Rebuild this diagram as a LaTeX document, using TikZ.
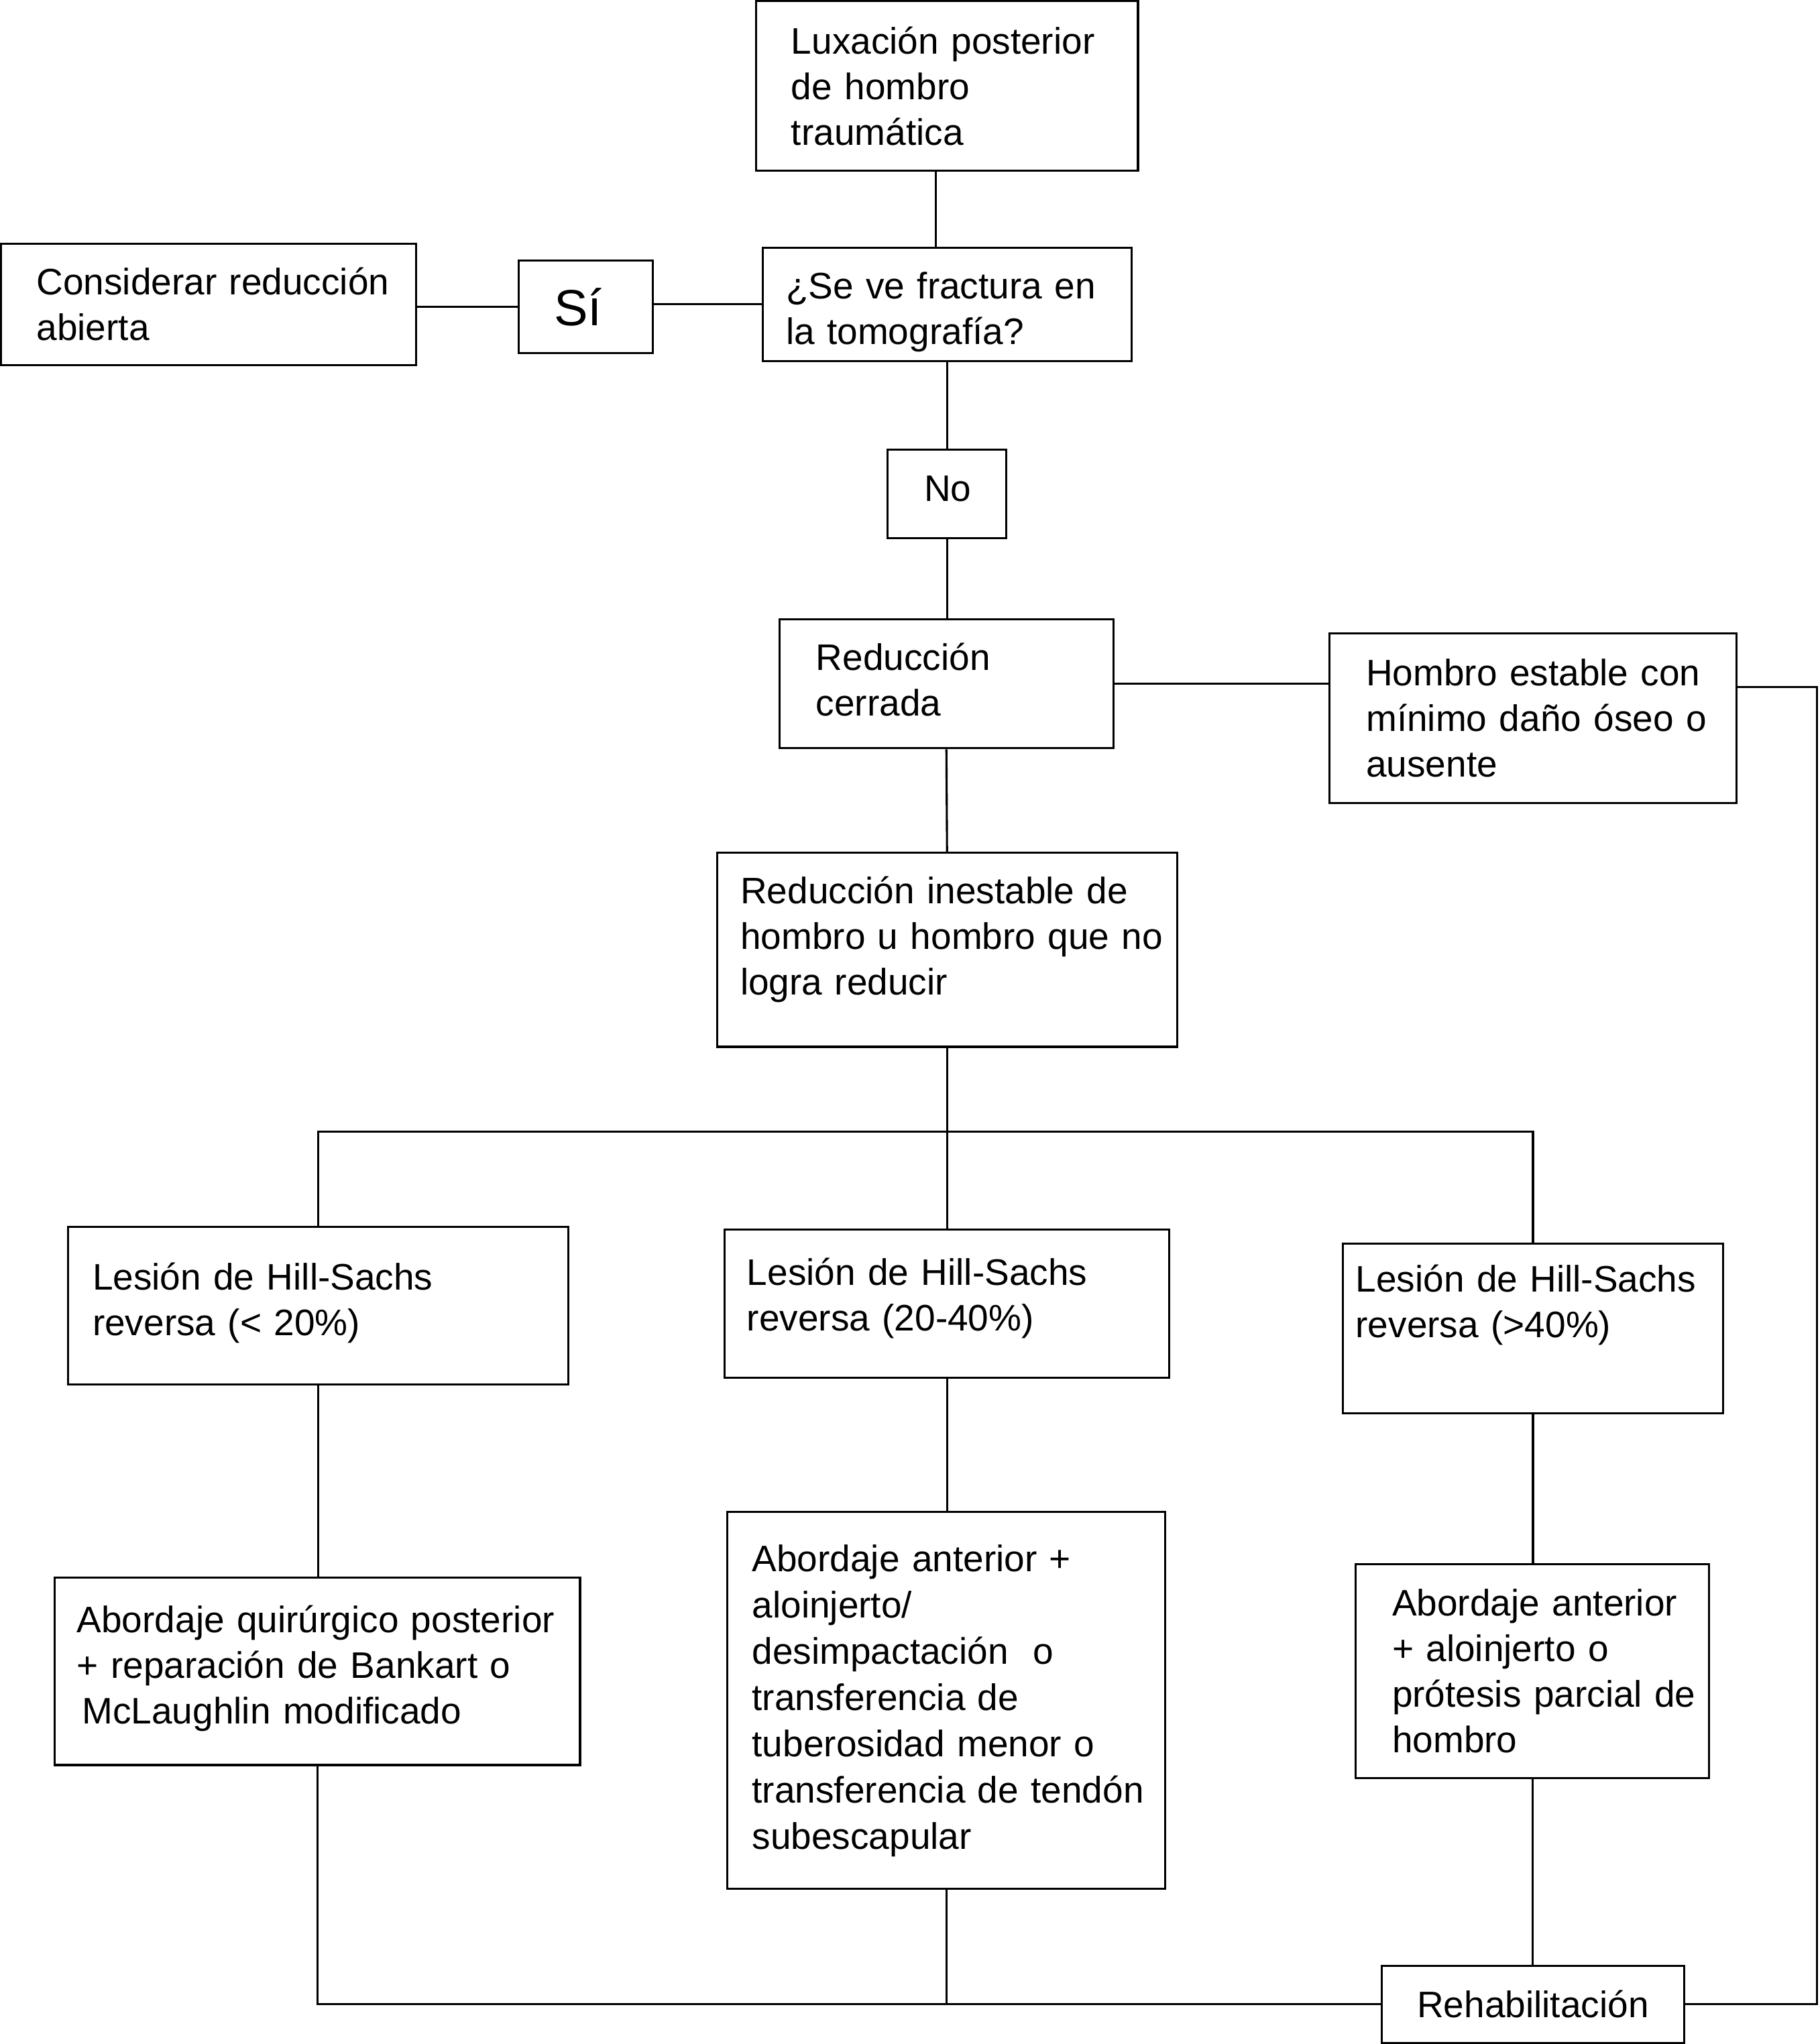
\documentclass[tikz,border=0pt]{standalone}
\usepackage{fontspec}
\setmainfont{Liberation Sans}

\begin{document}
\begin{tikzpicture}[x=1pt, y=-1pt,
  box/.style={draw=black, line width=1.6pt, align=left, inner xsep=0pt, inner ysep=0pt, font=\fontsize{28.3}{35}\selectfont},
  pad/.style={execute at begin node={\leftskip=#1}},
  lift/.style={execute at end node={\endgraf\vspace*{#1}}},
  link/.style={black, line width=1.6pt}]
\useasboundingbox (0,0) rectangle (1396,1568);
\node[box, pad=27pt, text width=293pt, minimum height=130pt] (lux) at (726.5,66) {Luxación posterior\\de hombro\\traumática};
\node[box, pad=18pt, lift=-12pt, text width=283pt, minimum height=87pt] (frac) at (726.5,233.5) {¿Se ve fractura en\\la tomografía?};
\node[box, pad=27pt, text width=103pt, minimum height=71pt, font=\fontsize{39}{45}\selectfont] (si) at (449.5,235.5) {Sí};
\node[box, pad=27pt, text width=318pt, minimum height=93pt] (abierta) at (160,233.5) {Considerar reducción\\abierta};
\node[box, pad=28pt, lift=8pt, text width=91pt, minimum height=68pt] (no) at (726.5,379) {No};
\node[box, pad=28pt, lift=6pt, text width=256pt, minimum height=99pt] (cerrada) at (726,524.5) {Reducción\\cerrada};
\node[box, pad=28pt, text width=312pt, minimum height=130pt] (estable) at (1176,551) {Hombro estable con\\mínimo daño óseo o\\ausente};
\node[box, pad=18pt, lift=16pt, text width=353pt, minimum height=149pt] (inestable) at (726.5,728.5) {Reducción inestable de\\hombro u hombro que no\\logra reducir};
\node[box, pad=19pt, lift=4pt, text width=384pt, minimum height=121pt] (hsA) at (244,1001.5) {Lesión de Hill-Sachs\\reversa (< 20\%)};
\node[box, pad=17pt, lift=8pt, text width=341pt, minimum height=114pt] (hsB) at (726.5,1000) {Lesión de Hill-Sachs\\reversa (20-40\%)};
\node[box, pad=10pt, lift=36pt, text width=292pt, minimum height=130pt] (hsC) at (1176,1019) {Lesión de Hill-Sachs\\reversa (>40\%)};
\node[box, pad=17pt, lift=4pt, text width=403pt, minimum height=144pt] (abA) at (243.5,1282) {Abordaje quirúrgico posterior\\+ reparación de Bankart o\\\hspace*{4pt}McLaughlin modificado};
\node[box, pad=19pt, text width=336pt, minimum height=289pt, font=\fontsize{28.3}{35.5}\selectfont] (abB) at (726,1304.5) {Abordaje anterior +\\aloinjerto/\\desimpactación~ o\\transferencia de\\tuberosidad menor o\\transferencia de tendón\\subescapular};
\node[box, pad=28pt, text width=271pt, minimum height=164pt] (abC) at (1175.5,1282) {Abordaje anterior\\+ aloinjerto o\\prótesis parcial de\\hombro};
\node[box, align=center, minimum width=232pt, minimum height=59pt] (reha) at (1176,1537.5) {Rehabilitación};
\coordinate (split) at (726.5,868);
% top part
\draw[link] ([xshift=-8.5pt]lux.south) -- ([xshift=-8.5pt]frac.north);
\draw[link] (frac.west) -- (frac.west -| si.east);
\draw[link] (si.west) -- (si.west -| abierta.east);
\draw[link] (no.north) -- (no.north |- frac.south);
\draw[link] (no.south) -- (no.south |- cerrada.north);
\draw[link] (cerrada.east) -- (cerrada.east -| estable.west);
\draw[link] ([yshift=24pt]estable.east) -- ++(61,0) |- (reha.east);
\draw[link] (cerrada.south) -- (inestable.north);
% branches
\draw[link] (inestable.south) -- (split);
\draw[link] (hsA.north) |- (split) -| (hsC.north);
\draw[link] (split) -- (hsB.north);
\draw[link] (hsA.south) -- (hsA.south |- abA.north);
\draw[link] (hsB.south) -- (hsB.south |- abB.north);
\draw[link] (hsC.south) -- (hsC.south |- abC.north);
% to rehabilitation
\draw[link] (abA.south) |- (reha.west);
\draw[link] (abB.south) -- (abB.south |- reha.west);
\draw[link] (abC.south) -- (abC.south |- reha.north);
\end{tikzpicture}
\end{document}
